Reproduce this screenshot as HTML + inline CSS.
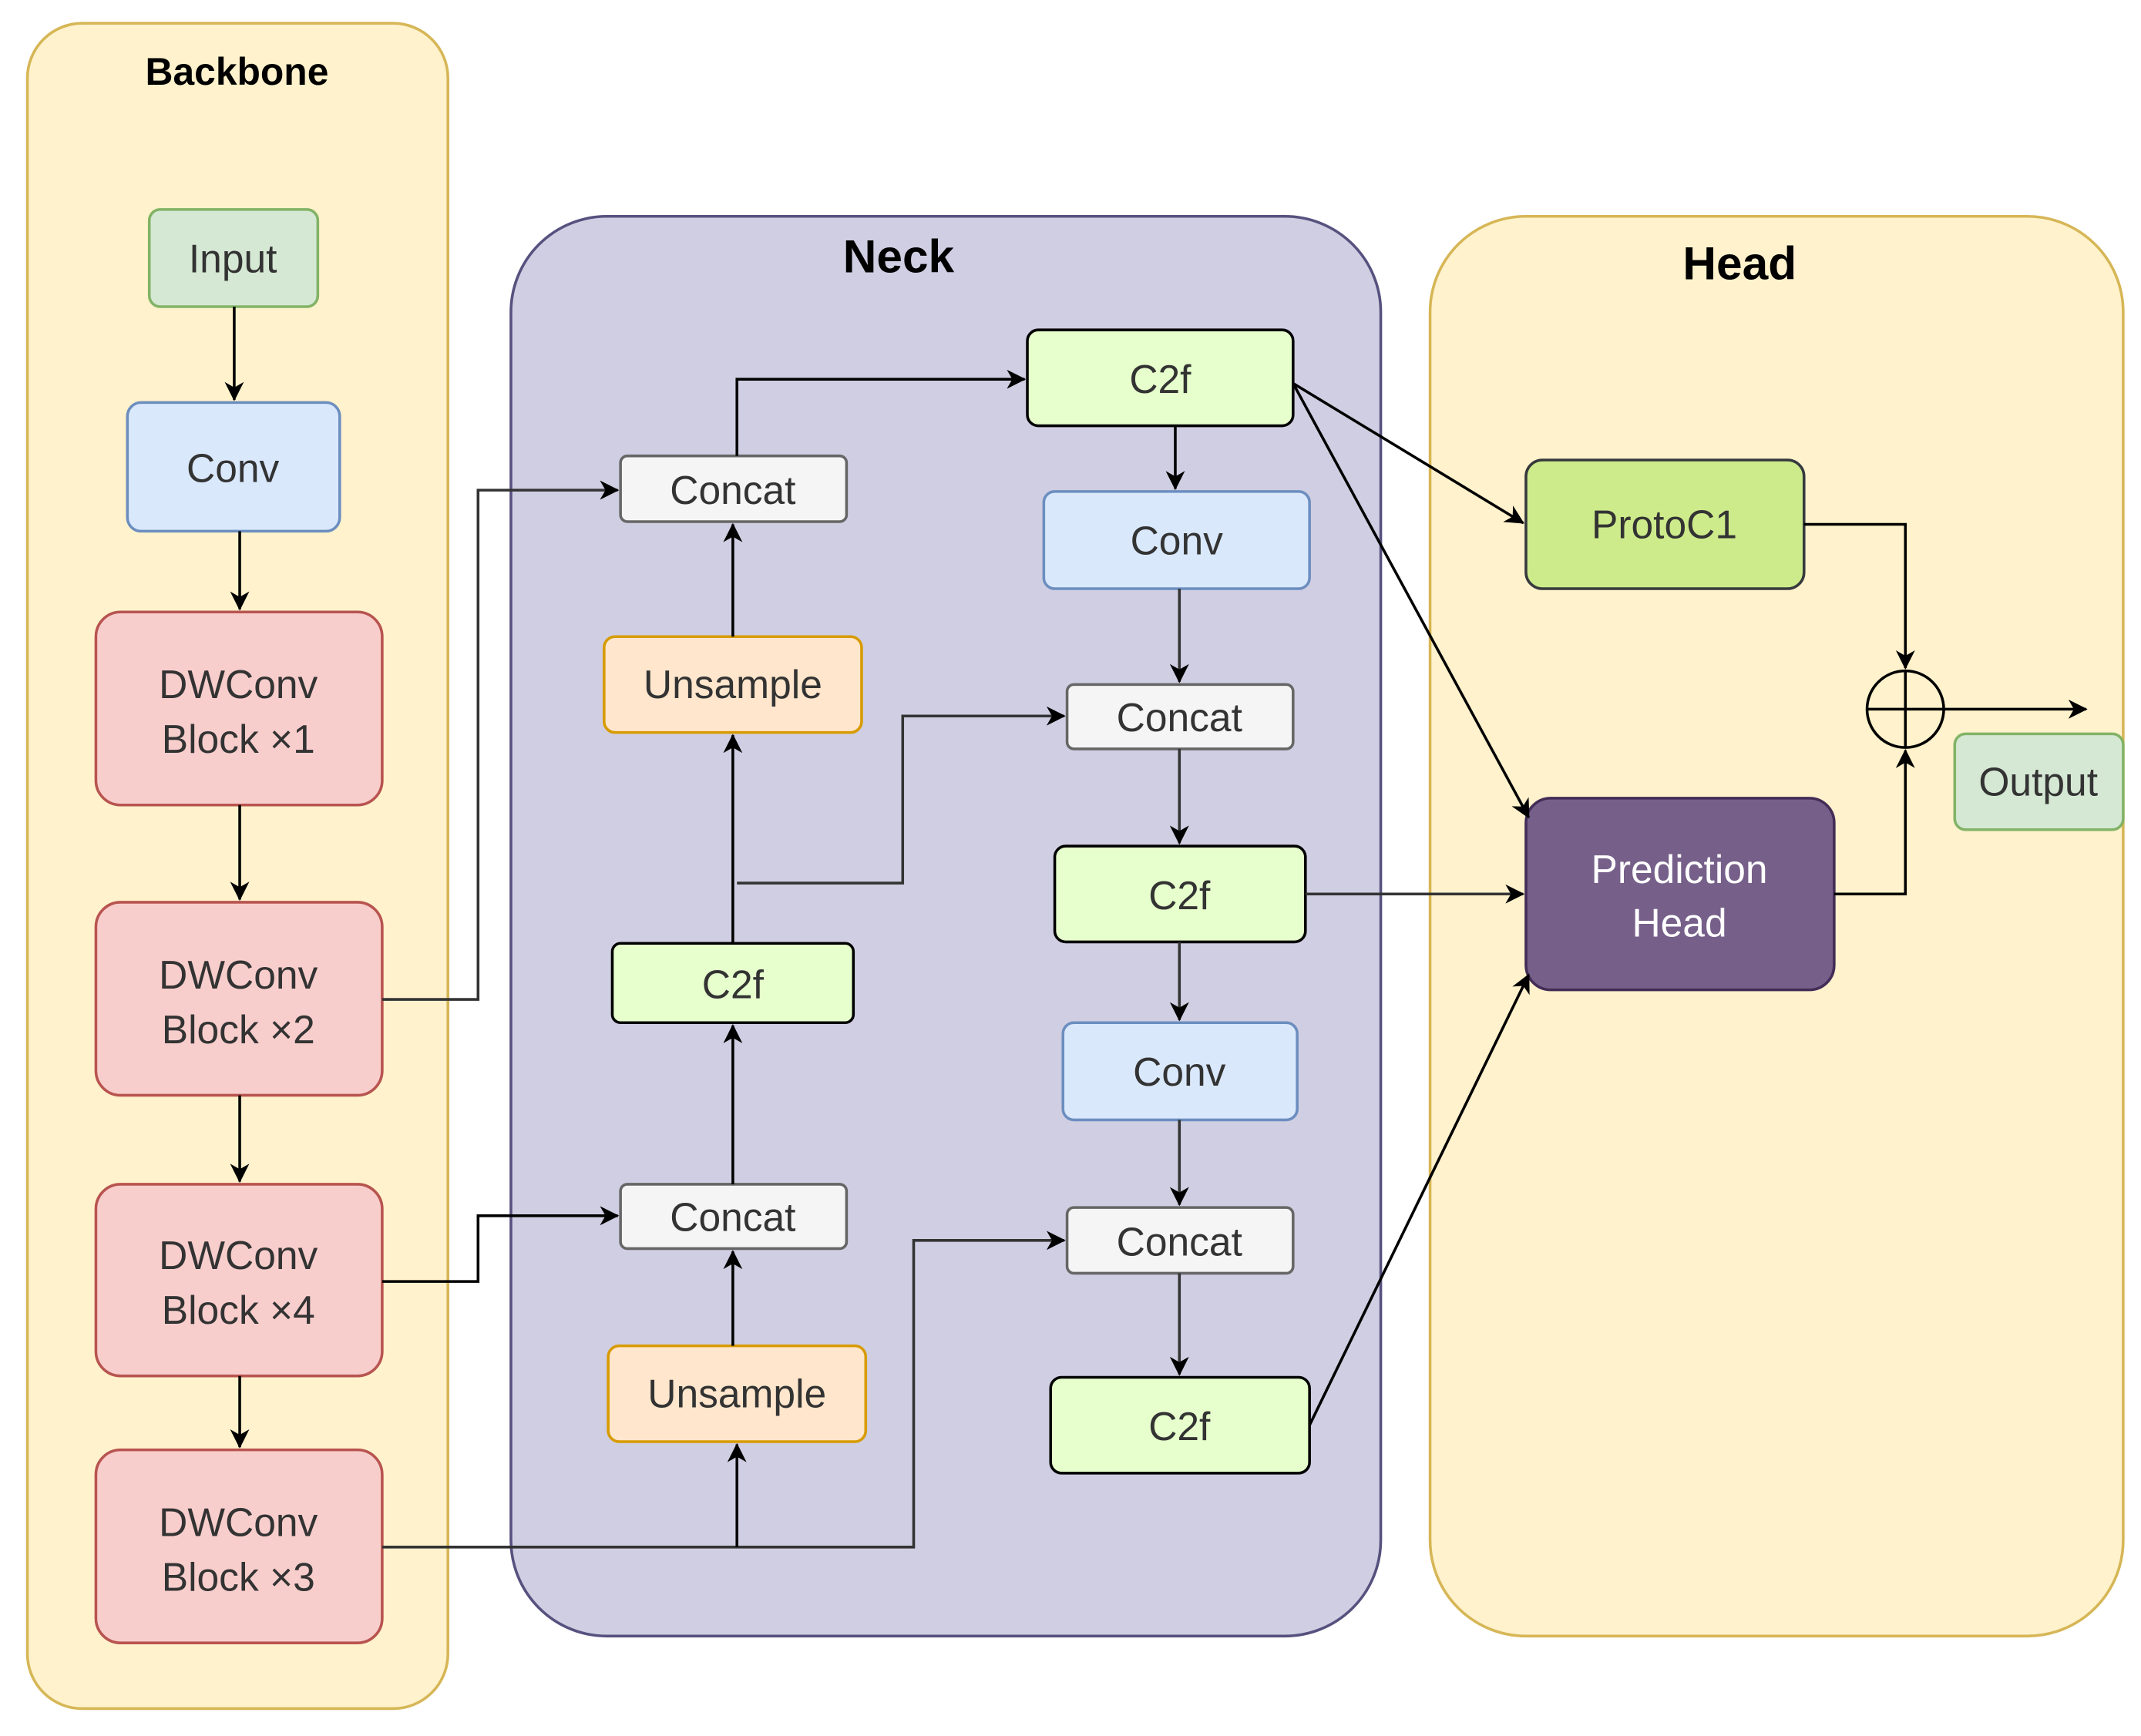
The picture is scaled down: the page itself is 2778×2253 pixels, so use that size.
<!DOCTYPE html>
<html><head><meta charset="utf-8"><style>
html,body{margin:0;padding:0;background:#fff;}
svg{display:block;}
text{font-family:"Liberation Sans",sans-serif;}
</style></head><body>
<svg width="2778" height="2253" viewBox="0 0 1563 1268" preserveAspectRatio="none" xmlns="http://www.w3.org/2000/svg">
<defs>
<marker id="a" markerWidth="14" markerHeight="14" refX="13" refY="7" orient="auto" markerUnits="userSpaceOnUse" viewBox="0 0 14 14">
<path d="M0,0 L14,7 L0,14 L4,7 z" fill="#000"/></marker>
</defs>
<rect width="1563" height="1268" fill="#fff"/>
<rect x="20" y="17" width="307" height="1231" rx="40" fill="#fff2cc" stroke="#d6b656" stroke-width="2"/>
<rect x="373" y="158" width="635" height="1037" rx="70" fill="#d0cee2" stroke="#56517e" stroke-width="2"/>
<rect x="1044" y="158" width="506" height="1037" rx="70" fill="#fff2cc" stroke="#d6b656" stroke-width="2"/>
<g font-weight="bold" fill="#000" text-anchor="middle">
<text x="173" y="62" font-size="28">Backbone</text>
<text x="656" y="199" font-size="34">Neck</text>
<text x="1270" y="204" font-size="34">Head</text>
</g>
<g stroke-width="2" font-size="28" text-anchor="middle">
<rect x="109" y="153" width="123" height="71" rx="8" fill="#d5e8d4" stroke="#82b366"/>
<rect x="93" y="294" width="155" height="94" rx="10" fill="#dae8fc" stroke="#6c8ebf"/>
<rect x="70" y="447" width="209" height="141" rx="18" fill="#f8cecc" stroke="#b85450"/>
<rect x="70" y="659" width="209" height="141" rx="18" fill="#f8cecc" stroke="#b85450"/>
<rect x="70" y="865" width="209" height="140" rx="18" fill="#f8cecc" stroke="#b85450"/>
<rect x="70" y="1059" width="209" height="141" rx="18" fill="#f8cecc" stroke="#b85450"/>
<rect x="453" y="333" width="165" height="48" rx="5" fill="#f5f5f5" stroke="#666"/>
<rect x="441" y="465" width="188" height="70" rx="8" fill="#ffe6cc" stroke="#d79b00"/>
<rect x="447" y="689" width="176" height="58" rx="6" fill="#e6ffcc" stroke="#000"/>
<rect x="453" y="865" width="165" height="47" rx="5" fill="#f5f5f5" stroke="#666"/>
<rect x="444" y="983" width="188" height="70" rx="8" fill="#ffe6cc" stroke="#d79b00"/>
<rect x="750" y="241" width="194" height="70" rx="8" fill="#e6ffcc" stroke="#000"/>
<rect x="762" y="359" width="194" height="71" rx="8" fill="#dae8fc" stroke="#6c8ebf"/>
<rect x="779" y="500" width="165" height="47" rx="5" fill="#f5f5f5" stroke="#666"/>
<rect x="770" y="618" width="183" height="70" rx="8" fill="#e6ffcc" stroke="#000"/>
<rect x="776" y="747" width="171" height="71" rx="8" fill="#dae8fc" stroke="#6c8ebf"/>
<rect x="779" y="882" width="165" height="48" rx="5" fill="#f5f5f5" stroke="#666"/>
<rect x="767" y="1006" width="189" height="70" rx="8" fill="#e6ffcc" stroke="#000"/>
<rect x="1114" y="336" width="203" height="94" rx="12" fill="#cdeb8b" stroke="#36393d"/>
<rect x="1114" y="583" width="225" height="140" rx="18" fill="#76608a" stroke="#432d57"/>
<rect x="1427" y="536" width="123" height="70" rx="8" fill="#d5e8d4" stroke="#82b366"/>
</g>
<g font-size="29" text-anchor="middle" fill="#333">
<text x="170" y="199">Input</text>
<text x="170" y="352">Conv</text>
<text x="174" y="510">DWConv</text><text x="174" y="550">Block ×1</text>
<text x="174" y="722">DWConv</text><text x="174" y="762">Block ×2</text>
<text x="174" y="927">DWConv</text><text x="174" y="967">Block ×4</text>
<text x="174" y="1122">DWConv</text><text x="174" y="1162">Block ×3</text>
<text x="535" y="368">Concat</text>
<text x="535" y="510">Unsample</text>
<text x="535" y="729">C2f</text>
<text x="535" y="899">Concat</text>
<text x="538" y="1028">Unsample</text>
<text x="847" y="287">C2f</text>
<text x="859" y="405">Conv</text>
<text x="861" y="534">Concat</text>
<text x="861" y="664">C2f</text>
<text x="861" y="793">Conv</text>
<text x="861" y="917">Concat</text>
<text x="861" y="1052">C2f</text>
<text x="1215" y="393">ProtoC1</text>
<text x="1488" y="581">Output</text>
</g>
<g font-size="29" text-anchor="middle" fill="#fff">
<text x="1226" y="645">Prediction</text><text x="1226" y="684">Head</text>
</g>
<g fill="none" stroke="#000" stroke-width="2" marker-end="url(#a)">
<path d="M171,224 V292"/>
<path d="M175,388 V445"/>
<path d="M175,588 V657"/>
<path d="M175,800 V863"/>
<path d="M175,1005 V1057"/>
<path d="M279,730 H349 V358 H451" stroke="#333"/>
<path d="M279,936 H349 V888 H451"/>
<path d="M279,1130 H667 V906 H777" stroke="#333"/>
<path d="M538,1130 V1055"/>
<path d="M535,983 V914"/>
<path d="M535,865 V749"/>
<path d="M535,689 V537"/>
<path d="M538,645 H659 V523 H777" stroke="#333"/>
<path d="M535,465 V383"/>
<path d="M538,333 V277 H748"/>
<path d="M858,311 V357"/>
<path d="M861,430 V498" stroke="#333"/>
<path d="M861,547 V616" stroke="#333"/>
<path d="M861,688 V745" stroke="#333"/>
<path d="M861,818 V880" stroke="#333"/>
<path d="M861,930 V1004" stroke="#333"/>
<path d="M944,280 L1112,382"/>
<path d="M944,280 L1116,597"/>
<path d="M953,653 H1112" stroke="#333"/>
<path d="M956,1041 L1116,712"/>
<path d="M1317,383 H1391 V488"/>
<path d="M1339,653 H1391 V548"/>
<path d="M1419,518 H1523"/>
</g>
<circle cx="1391" cy="518" r="28" fill="none" stroke="#000" stroke-width="2"/>
<path d="M1363,518 H1419 M1391,490 V546" stroke="#000" stroke-width="2"/>
</svg>
</body></html>
